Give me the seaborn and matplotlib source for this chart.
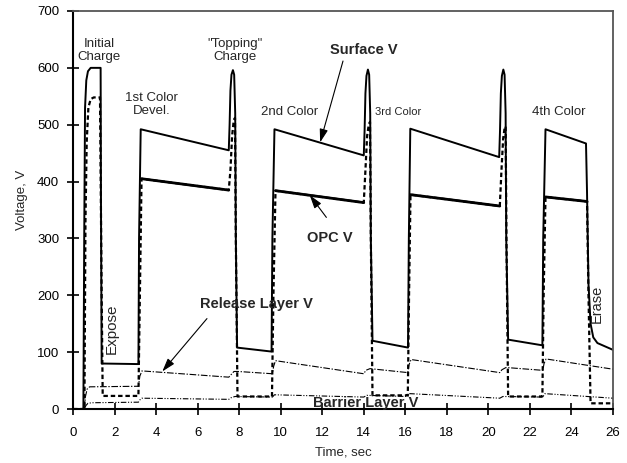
import matplotlib
matplotlib.use("Agg")
import matplotlib.pyplot as plt
import numpy as np
import seaborn as sns

# ---- measured traces (time in s, voltage in V) ----
surface_t = [0.00, 0.50, 0.54, 0.58, 0.64, 0.72, 0.85, 1.33, 1.35, 1.38, 3.15, 3.18, 3.26,
             7.50, 7.54, 7.58, 7.63, 7.70, 7.76, 7.81, 7.84, 7.90,
             9.56, 9.60, 9.70,
             14.00, 14.04, 14.08, 14.13, 14.20, 14.26, 14.31, 14.34, 14.42,
             16.13, 16.17, 16.24,
             20.52, 20.56, 20.60, 20.65, 20.72, 20.78, 20.83, 20.86, 20.95,
             22.60, 22.64, 22.75,
             24.70, 24.75, 24.82, 24.92, 25.05, 25.25, 26.00]
surface_v = [0, 0, 300, 530, 578, 594, 600, 600, 330, 80, 79, 300, 492,
             455, 500, 560, 588, 596, 588, 520, 300, 108,
             101, 300, 492,
             446, 490, 555, 586, 597, 588, 520, 300, 120,
             108, 300, 493,
             443, 490, 555, 586, 597, 588, 520, 300, 122,
             112, 300, 492,
             467, 380, 220, 150, 126, 116, 104]

opc_t = [0.00, 0.55, 0.60, 0.66, 0.74, 0.85, 1.00, 1.30, 1.38, 1.43, 3.15, 3.22, 3.30,
         7.50, 7.58, 7.66, 7.74, 7.80, 7.84, 7.92,
         9.58, 9.65, 9.75,
         14.00, 14.08, 14.16, 14.24, 14.30, 14.34, 14.42,
         16.12, 16.18, 16.25,
         20.55, 20.63, 20.71, 20.78, 20.83, 20.87, 20.95,
         22.60, 22.66, 22.75,
         24.75, 24.82, 24.92, 26.00]
opc_v = [0, 0, 330, 470, 530, 545, 548, 548, 200, 23, 23, 200, 405,
         385, 420, 480, 508, 512, 300, 22,
         22, 200, 384,
         363, 420, 480, 500, 505, 300, 24,
         24, 200, 377,
         357, 420, 475, 494, 497, 300, 22,
         22, 200, 373,
         365, 200, 10, 10]

# development intervals where the OPC trace is drawn solid
develop_windows = [(3.30, 7.50), (9.75, 14.00), (16.25, 20.55), (22.75, 24.75)]

release_t = [0.00, 0.55, 0.60, 0.68, 0.80, 3.15, 3.22, 3.32, 7.50, 7.60, 7.75, 7.95,
             9.60, 9.66, 9.75, 14.00, 14.10, 14.30, 16.12, 16.18, 16.28,
             20.55, 20.65, 20.85, 22.62, 22.68, 22.78, 26.00]
release_v = [0, 0, 22, 35, 39, 40, 58, 67, 56, 60, 66, 66,
             62, 75, 85, 62, 68, 71, 64, 78, 87,
             64, 69, 73, 68, 80, 88, 70]

barrier_t = [0.00, 0.55, 0.62, 0.72, 0.90, 3.15, 3.22, 3.32, 7.50, 7.62, 7.80,
             9.60, 9.70, 14.00, 14.15, 16.12, 16.22, 20.55, 20.70, 22.62, 22.72, 26.00]
barrier_v = [0, 0, 6, 10, 11, 12, 16, 19, 17, 20, 22,
             21, 25, 21, 24, 22, 27, 19, 22, 21, 27, 19]

x_ticks = list(range(0, 27, 2))
y_ticks = list(range(0, 701, 100))

sns.set_style("ticks")
plt.rcParams["font.family"] = ["Liberation Sans", "DejaVu Sans"]

fig = plt.figure(figsize=(6.27, 4.63), dpi=100)
ax = fig.add_axes([73 / 627, 1 - 409 / 463, 540 / 627, 398 / 463])


def trace(t, v, **kw):
    sns.lineplot(x=t, y=v, ax=ax, estimator=None, sort=False, color="black", **kw)


trace(barrier_t, barrier_v, linewidth=0.8, linestyle=(0, (5, 1.5, 1, 1.5, 1, 1.5)))
trace(release_t, release_v, linewidth=0.8, linestyle=(0, (6, 1.5, 1.2, 1.5)))
trace(opc_t, opc_v, linewidth=1.6, linestyle=(0, (2.0, 1.3)))

opc_t_arr = np.asarray(opc_t)
opc_v_arr = np.asarray(opc_v)
for a, b in develop_windows:
    m = (opc_t_arr >= a) & (opc_t_arr <= b)
    trace(opc_t_arr[m], opc_v_arr[m], linewidth=2.0)

trace(surface_t, surface_v, linewidth=1.4)

ax.set_xlim(0, 26)
ax.set_ylim(0, 700)
ax.set_xticks(x_ticks)
ax.set_yticks(y_ticks)
ax.tick_params(axis="both", direction="inout", length=8, width=1.2,
               labelsize=9.5, colors="black")
ax.tick_params(axis="x", pad=9)
ax.tick_params(axis="y", pad=6)

for side in ("left", "bottom"):
    ax.spines[side].set_linewidth(1.5)
    ax.spines[side].set_color("black")
for side in ("top", "right"):
    ax.spines[side].set_visible(True)
    ax.spines[side].set_linewidth(1.3)
    ax.spines[side].set_color("#555555")

ax.set_xlabel("Time, sec", fontsize=9.5)
ax.set_ylabel("Voltage, V", fontsize=9.5)
ax.xaxis.set_label_coords(0.5, -0.095)
ax.yaxis.set_label_coords(-0.083, 0.526)

# stage labels
ax.text(1.25, 630, "Initial\nCharge", ha="center", va="center", fontsize=9.5, linespacing=1.1)
ax.text(3.8, 535, "1st Color\nDevel.", ha="center", va="center", fontsize=9.5, linespacing=1.1)
ax.text(7.8, 630, "\"Topping\"\nCharge", ha="center", va="center", fontsize=9.5, linespacing=1.1)
ax.text(10.45, 522, "2nd Color", ha="center", va="center", fontsize=9.5)
ax.text(15.65, 522, "3rd Color", ha="center", va="center", fontsize=8)
ax.text(23.4, 522, "4th Color", ha="center", va="center", fontsize=9.5)
ax.text(1.86, 141, "Expose", ha="center", va="center", rotation=90, fontsize=11)
ax.text(25.2, 185, "Erase", ha="center", va="center", rotation=90, fontsize=10.5)

# trace labels
ax.text(12.37, 632, "Surface V", ha="left", va="center", fontsize=10.5, fontweight="bold")
ax.text(11.27, 300, "OPC V", ha="left", va="center", fontsize=10.5, fontweight="bold")
ax.text(6.11, 185, "Release Layer V", ha="left", va="center", fontsize=10.5, fontweight="bold")
ax.text(11.56, 11, "Barrier Layer V", ha="left", va="center", fontsize=10.5, fontweight="bold")

arrow = dict(arrowstyle="-|>,head_length=0.8,head_width=0.25", color="black",
             lw=0.8, shrinkA=0, shrinkB=0)
ax.annotate("", xy=(11.9, 469), xytext=(13.0, 612), arrowprops=arrow)
ax.annotate("", xy=(11.4, 376), xytext=(12.2, 337), arrowprops=arrow)
ax.annotate("", xy=(4.3, 66), xytext=(6.45, 159), arrowprops=arrow)

fig.savefig("out.png", dpi=100)
